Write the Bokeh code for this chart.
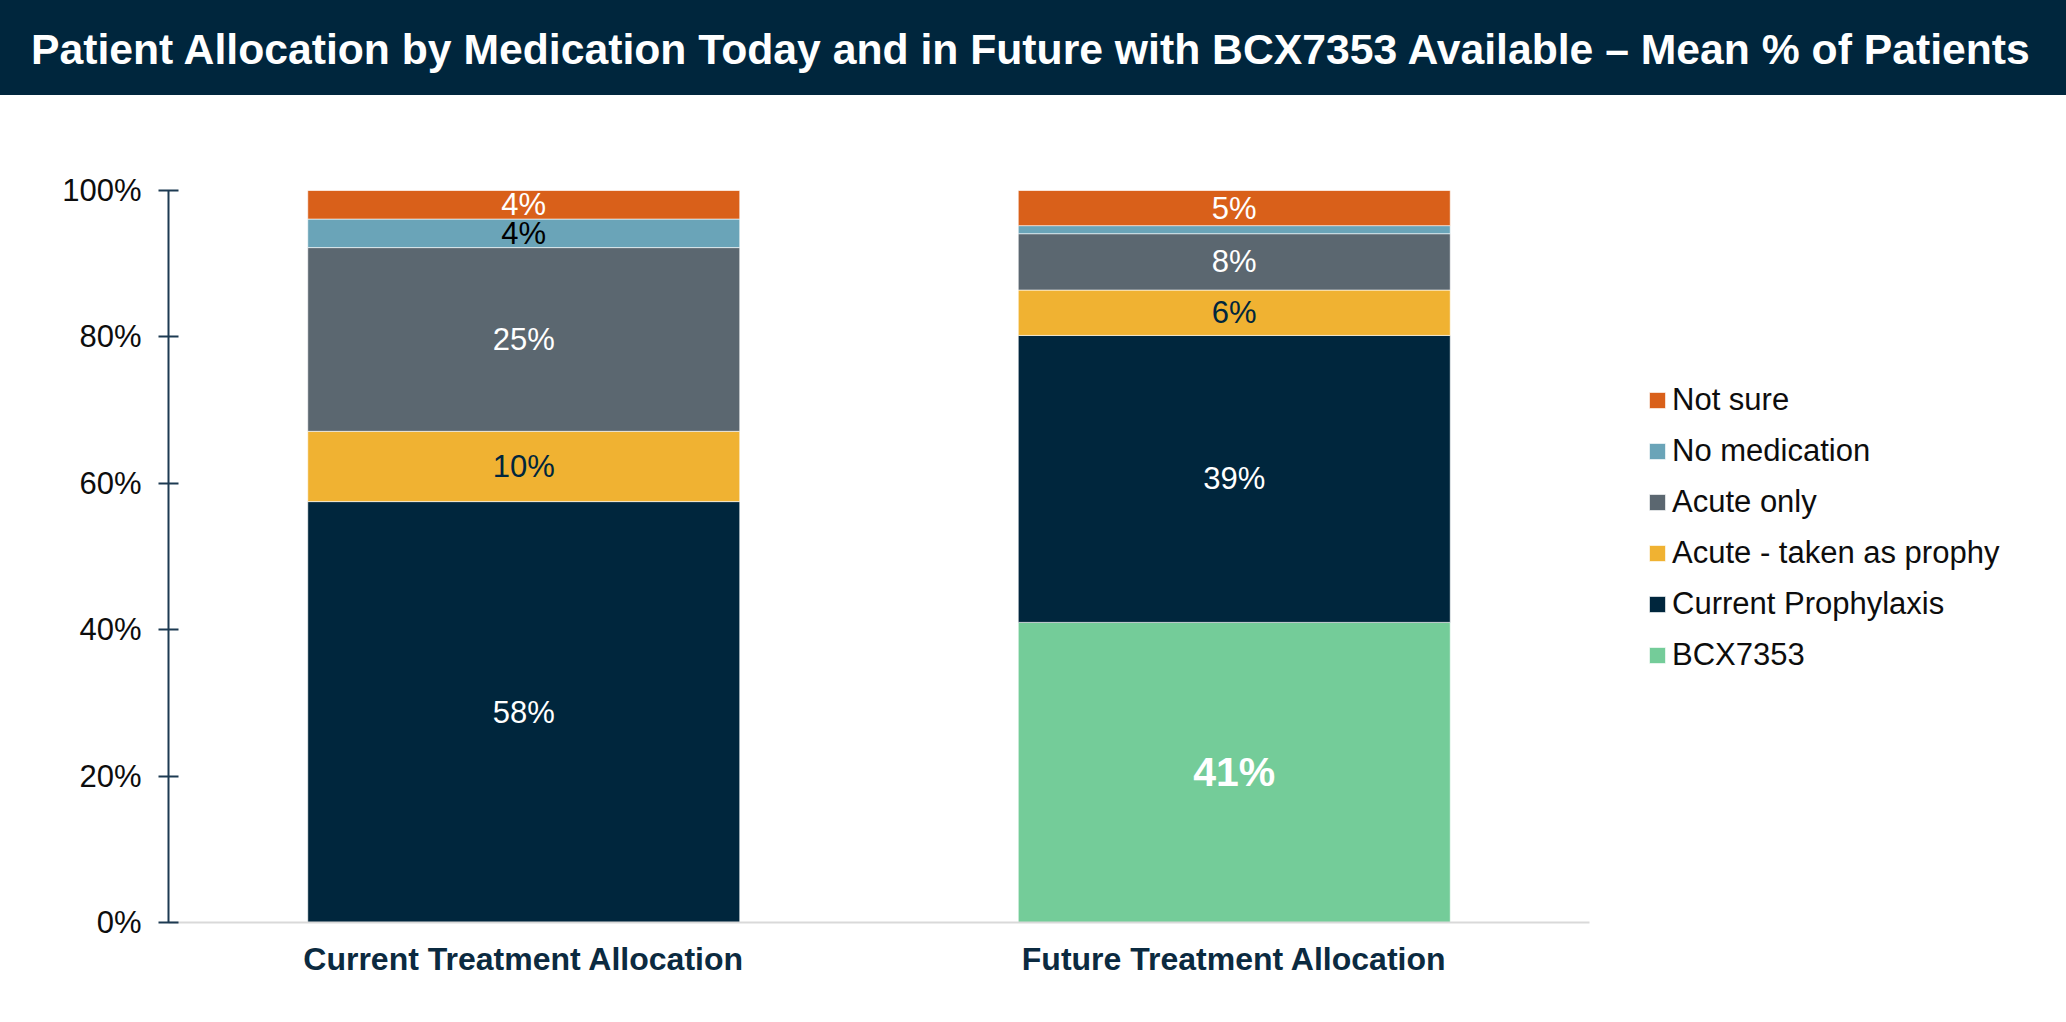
from bokeh.plotting import figure
from bokeh.models import (ColumnDataSource, FactorRange, Range1d, FixedTicker,
                          PrintfTickFormatter, Legend, LegendItem, Div)
from bokeh.layouts import column
from bokeh.embed import file_html
from bokeh.resources import INLINE
from bokeh.core.properties import value

# ---------------- data ----------------
title_text = ("Patient Allocation by Medication Today and in Future with "
              "BCX7353 Available \u2013 Mean % of Patients")
categories = ["Current Treatment Allocation", "Future Treatment Allocation"]
series = ["BCX7353", "Current Prophylaxis", "Acute - taken as prophy",
          "Acute only", "No medication", "Not sure"]
bcx7353 = [0.0, 41.0]
current_prophylaxis = [57.5, 39.2]
acute_prophy = [9.6, 6.2]
acute_only = [25.1, 7.7]
no_medication = [3.9, 1.1]
not_sure = [3.9, 4.8]
y_ticks = [0, 20, 40, 60, 80, 100]

# ---------------- styles ----------------
FONT = "Liberation Sans"
NAVY = "#00263D"
colors = ["#74CC99", "#00263D", "#F0B232", "#5B6770", "#6AA4B8", "#D9601A"]
label_colors = ["white", "white", NAVY, "white", "black", "white"]
bold_series = {"BCX7353"}

values = {
    "BCX7353": bcx7353,
    "Current Prophylaxis": current_prophylaxis,
    "Acute - taken as prophy": acute_prophy,
    "Acute only": acute_only,
    "No medication": no_medication,
    "Not sure": not_sure,
}

src = ColumnDataSource(dict(cat=categories, **values))

# data labels (segment centres)
norm = dict(x=[], y=[], text=[], color=[])
bold = dict(x=[], y=[], text=[], color=[])
for i, cat in enumerate(categories):
    bottom = 0.0
    for s, lc in zip(series, label_colors):
        v = values[s][i]
        if v >= 2:
            d = bold if s in bold_series else norm
            d["x"].append(cat)
            d["y"].append(bottom + v / 2)
            d["text"].append(f"{int(v + 0.5)}%")
            d["color"].append(lc)
        bottom += v

# ---------------- title bar ----------------
title = Div(text=title_text, width=2066, height=95, margin=0,
            styles={"background-color": NAVY, "color": "white",
                    "font-family": "'Liberation Sans', Arial, sans-serif",
                    "font-weight": "bold", "font-size": "42.7px",
                    "line-height": "99px", "padding-left": "31px",
                    "box-sizing": "border-box", "white-space": "nowrap",
                    "overflow": "hidden"})

# ---------------- main chart ----------------
p = figure(x_range=FactorRange(*categories), y_range=Range1d(0, 100),
           frame_width=1421, frame_height=732,
           min_border_left=168, min_border_right=477,
           min_border_top=95, min_border_bottom=98,
           toolbar_location=None, output_backend="svg",
           outline_line_color=None, background_fill_color="white",
           border_fill_color="white", margin=0)
p.grid.visible = False

renderers = p.vbar_stack(series, x="cat", width=0.608, color=colors, source=src,
                         line_color="white", line_width=1, line_alpha=0.6)

p.text(x="x", y="y", text="text", text_color="color", source=ColumnDataSource(norm),
       text_align="center", text_baseline="middle", text_font=value(FONT),
       text_font_size="31px")
p.text(x="x", y="y", text="text", text_color="color", source=ColumnDataSource(bold),
       text_align="center", text_baseline="middle", text_font=value(FONT),
       text_font_size="41px", text_font_style="bold")

# y axis
ya = p.yaxis[0]
ya.ticker = FixedTicker(ticks=y_ticks)
ya.formatter = PrintfTickFormatter(format="%d%%")
ya.axis_line_color = "#1D3A52"
ya.axis_line_width = 2
ya.major_tick_line_color = "#1D3A52"
ya.major_tick_line_width = 2
ya.major_tick_in = 10
ya.major_tick_out = 10
ya.minor_tick_line_color = None
ya.major_label_standoff = 17
ya.major_label_text_font = FONT
ya.major_label_text_font_size = "31px"
ya.major_label_text_color = "#0D0D0D"

# x axis
xa = p.xaxis[0]
xa.axis_line_color = "#D9D9D9"
xa.axis_line_width = 2
xa.major_tick_line_color = None
xa.minor_tick_line_color = None
xa.major_tick_out = 0
xa.major_tick_in = 0
xa.major_label_standoff = 18
xa.major_label_text_font = FONT
xa.major_label_text_font_size = "32px"
xa.major_label_text_font_style = "bold"
xa.major_label_text_color = "#0B2A40"

# legend
items = [LegendItem(label=s, renderers=[r])
         for s, r in reversed(list(zip(series, renderers)))]
legend = Legend(items=items, location=(58, 249), orientation="vertical",
                glyph_width=20, glyph_height=20, label_height=20, spacing=15,
                padding=0, margin=0, border_line_color=None,
                background_fill_alpha=0, label_standoff=5,
                label_text_font=FONT, label_text_font_size="31px",
                label_text_color="#0D0D0D")
p.add_layout(legend, "right")

layout = column(title, p, spacing=0, margin=0)
open("out.html", "w").write(file_html(layout, INLINE))
